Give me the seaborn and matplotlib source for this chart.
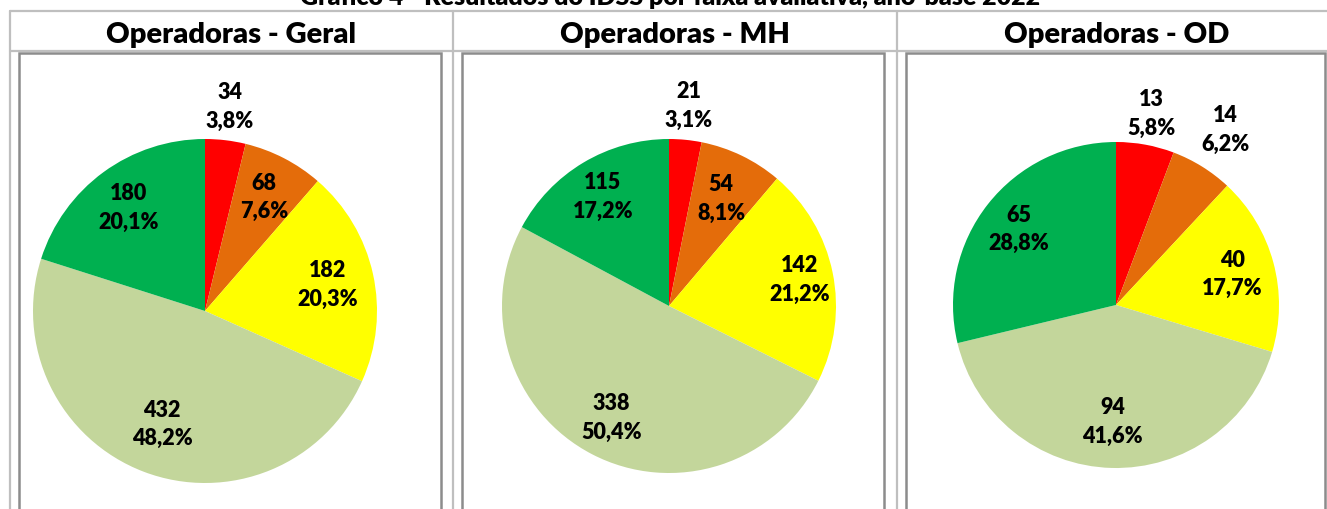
import numpy as np
import matplotlib
matplotlib.use("Agg")
import matplotlib.pyplot as plt
from matplotlib.patches import Rectangle
from matplotlib.lines import Line2D
import seaborn as sns

# ---------------- data ----------------
main_title = "Gráfico 4 - Resultados do IDSS por faixa avaliativa, ano-base 2022"
panel_titles = ["Operadoras - Geral", "Operadoras - MH", "Operadoras - OD"]
faixas = ["0,0 a 0,2", "0,2 a 0,4", "0,4 a 0,6", "0,6 a 0,8", "0,8 a 1,0"]
geral = [34, 68, 182, 432, 180]
mh = [21, 54, 142, 338, 115]
od = [13, 14, 40, 94, 65]
series = [geral, mh, od]

# ---------------- style ----------------
sns.set_theme(style="white")
plt.rcParams["font.family"] = ["Lato", "DejaVu Sans"]
colors = sns.color_palette(["#FF0000", "#E46C0A", "#FFFF00", "#C3D69B", "#00B050"])
label_dist = [
    [1.20, 0.75, 0.73, 0.70, 0.75],
    [1.21, 0.72, 0.80, 0.75, 0.77],
    [1.20, 1.27, 0.74, 0.71, 0.76],
]
W, H = 1327, 510
fig = plt.figure(figsize=(W / 100, H / 100), dpi=100)

def fx(x):
    return x / W

def fy(y):
    return 1 - y / H

# pie geometry (pixels): centre x, centre y, radius
geom = [(205, 312, 172), (669, 307, 167), (1116, 306, 163)]

# table grid
grid_c = "#BFBFBF"
fig.add_artist(Line2D([fx(10), fx(1327)], [fy(12), fy(12)], color=grid_c, lw=1.6, transform=fig.transFigure))
fig.add_artist(Line2D([fx(10), fx(1327)], [fy(52), fy(52)], color=grid_c, lw=1.6, transform=fig.transFigure))
for xv in [10, 453, 897]:
    fig.add_artist(Line2D([fx(xv), fx(xv)], [fy(12), fy(515)], color=grid_c, lw=1.6, transform=fig.transFigure))

# inner chart boxes
boxes = [(19, 441), (462, 884), (906, 1325)]
for (x0, x1) in boxes:
    fig.add_artist(Rectangle((fx(x0), fy(520)), fx(x1) - fx(x0), fy(54) - fy(520),
                             fill=False, edgecolor="#8C8C8C", lw=1.8, transform=fig.transFigure))

# panel titles
col_centres = [231.5, 675, 1117]
for t, cx in zip(panel_titles, col_centres):
    fig.text(fx(cx), fy(43), t, ha="center", va="baseline", fontsize=21, fontweight="heavy", color="black")

# main title (cut at the top like the reference)
fig.text(fx(670), fy(5), main_title, ha="center", va="baseline", fontsize=18, fontweight="heavy", color="black")

for vals, (cx, cy, r), dists in zip(series, geom, label_dist):
    ax = fig.add_axes([fx(cx - r), fy(cy + r), 2 * r / W, 2 * r / H])
    wedges, _ = ax.pie(vals, colors=colors, startangle=90, counterclock=False,
                       radius=1, wedgeprops=dict(linewidth=0))
    ax.set_xlim(-1, 1)
    ax.set_ylim(-1, 1)
    ax.set_aspect("equal")
    ax.axis("off")
    total = sum(vals)
    for w, v, d in zip(wedges, vals, dists):
        th = np.deg2rad((w.theta1 + w.theta2) / 2)
        pct = f"{100 * v / total:.1f}%".replace(".", ",")
        ax.text(d * np.cos(th), d * np.sin(th), f"{v}\n{pct}", ha="center", va="center",
                fontsize=15.5, fontweight="heavy", color="black", linespacing=1.45, clip_on=False)

fig.savefig("out.png", dpi=100)
